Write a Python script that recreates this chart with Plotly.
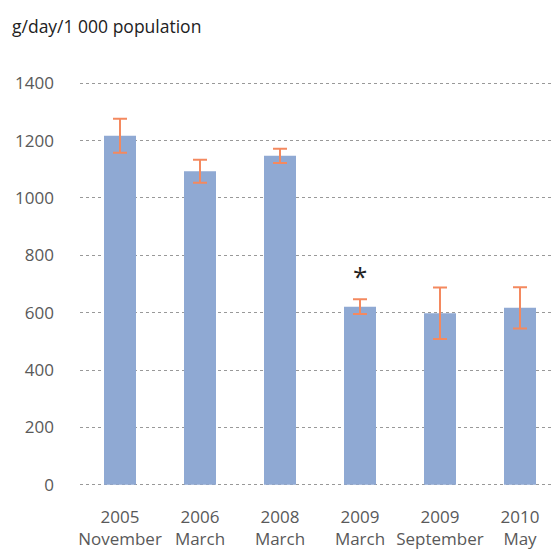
import plotly.graph_objects as go

years = ["2005", "2006", "2008", "2009", "2009", "2010"]
months = ["November", "March", "March", "March", "September", "May"]
values = [1217, 1093, 1147, 621, 598, 617]
errors = [59, 40, 25, 26, 90, 72]
y_ticks = [0, 200, 400, 600, 800, 1000, 1200, 1400]
unit_label = "g/day/1 000 population"
significant_index = 3

categories = [f"{y}<br>{m}" for y, m in zip(years, months)]

fig = go.Figure()
fig.add_trace(go.Bar(
    x=categories,
    y=values,
    width=0.4,
    marker=dict(color="#8FA9D3", line=dict(width=0)),
    error_y=dict(type="data", array=errors, visible=True,
                 color="#F4895F", thickness=2, width=7),
))

fig.add_annotation(
    x=categories[significant_index],
    y=values[significant_index] + errors[significant_index],
    text="*", showarrow=False, yanchor="bottom", yshift=3,
    font=dict(size=26, color="#222222", family="Open Sans"),
)

fig.add_annotation(
    xref="paper", yref="paper", x=-0.146, y=1.102,
    xanchor="left", yanchor="bottom",
    text=unit_label, showarrow=False,
    font=dict(size=17.5, color="#222222", family="Open Sans"),
)

fig.update_layout(
    width=552, height=541,
    margin=dict(l=72, r=0, t=72.7, b=61.7),
    paper_bgcolor="white", plot_bgcolor="white",
    showlegend=False,
    font=dict(family="Open Sans", size=17, color="#595959"),
)
fig.update_yaxes(
    range=[-8, 1408],
    tickvals=y_ticks,
    showgrid=True, gridcolor="#999999", griddash="dot", gridwidth=1.3,
    zeroline=False, showline=False,
    ticks="", ticklabelstandoff=25,
    tickfont=dict(size=17, color="#595959"),
)
fig.update_xaxes(
    showgrid=False, showline=False, ticks="",
    ticklabelstandoff=18,
    tickfont=dict(size=17, color="#595959"),
)

fig.write_html("out.html")
